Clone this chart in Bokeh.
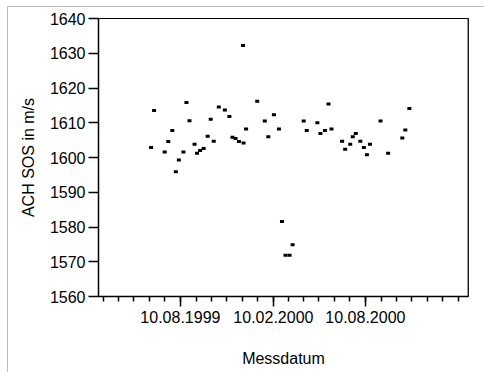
import pandas as pd
from bokeh.plotting import figure
from bokeh.models import ColumnDataSource, FixedTicker, DatetimeTickFormatter, Range1d, Span
from bokeh.embed import file_html
from bokeh.resources import INLINE

# ---- data ----
mess_dates = [
    "1999-06-13", "1999-06-19", "1999-07-10", "1999-07-17", "1999-07-25", "1999-08-01",
    "1999-08-07", "1999-08-16", "1999-08-22", "1999-08-28", "1999-09-07", "1999-09-12",
    "1999-09-18", "1999-09-25", "1999-10-03", "1999-10-09", "1999-10-15", "1999-10-25",
    "1999-11-06", "1999-11-15", "1999-11-21", "1999-11-27", "1999-12-04", "1999-12-13",
    "1999-12-12", "1999-12-18", "2000-01-09", "2000-01-24", "2000-01-31", "2000-02-11",
    "2000-02-21", "2000-02-27", "2000-03-05", "2000-03-13", "2000-03-19", "2000-04-10",
    "2000-04-16", "2000-05-07", "2000-05-13", "2000-05-22", "2000-05-29", "2000-06-04",
    "2000-06-25", "2000-07-01", "2000-07-11", "2000-07-16", "2000-07-22", "2000-07-31",
    "2000-08-07", "2000-08-13", "2000-08-19", "2000-09-09", "2000-09-24", "2000-10-22",
    "2000-10-28", "2000-11-05",
]
sos_values = [
    1602.9, 1613.5, 1601.6, 1604.6, 1607.8, 1595.9,
    1599.3, 1601.6, 1615.8, 1610.6, 1603.8, 1601.2,
    1602.0, 1602.6, 1606.1, 1611.0, 1604.7, 1614.5,
    1613.7, 1611.8, 1605.8, 1605.5, 1604.6, 1604.2,
    1632.2, 1608.2, 1616.2, 1610.5, 1606.0, 1612.3,
    1608.2, 1581.6, 1571.9, 1571.9, 1574.9, 1610.5,
    1607.8, 1610.0, 1606.9, 1607.8, 1615.4, 1608.2,
    1604.7, 1602.4, 1603.8, 1606.0, 1606.9, 1604.7,
    1602.9, 1600.8, 1603.8, 1610.5, 1601.2, 1605.6,
    1607.9, 1614.1,
]
major_tick_dates = ["1999-08-10", "2000-02-10", "2000-08-10"]
minor_tick_dates = [
    "1999-03-10", "1999-04-10", "1999-05-10", "1999-06-10", "1999-07-10", "1999-08-10",
    "1999-09-10", "1999-10-10", "1999-11-10", "1999-12-10", "2000-01-10", "2000-02-10",
    "2000-03-10", "2000-04-10", "2000-05-10", "2000-06-10", "2000-07-10", "2000-08-10",
    "2000-09-10", "2000-10-10", "2000-11-10", "2000-12-10", "2001-01-10", "2001-02-10",
]
x_start, x_end = "1999-03-01", "2001-03-02"
y_ticks = [1560, 1570, 1580, 1590, 1600, 1610, 1620, 1630, 1640]


def ms(d):
    return pd.Timestamp(d).value / 1e6


src = ColumnDataSource(dict(x=[ms(d) for d in mess_dates], y=sos_values))

FONT = "Liberation Sans"

p = figure(
    x_axis_type="datetime",
    frame_width=370, frame_height=278,
    min_border_left=90, min_border_top=11, min_border_right=16, min_border_bottom=76,
    output_backend="svg", toolbar_location=None,
    x_range=Range1d(ms(x_start), ms(x_end)),
    y_range=Range1d(1560, 1640),
    background_fill_color="white", border_fill_color="white",
    styles={"margin-left": "7px", "margin-top": "6px",
            "border-left": "1px solid #bbbbbb", "border-top": "1px solid #bbbbbb"},
)
p.grid.visible = False
p.outline_line_color = "black"
p.outline_line_width = 1

p.rect(x="x", y="y", width=4, height=3, width_units="screen", height_units="screen",
       fill_color="black", line_color=None, source=src)

# right border darker/thicker
p.add_layout(Span(location=ms(x_end), dimension="height", line_color="#333333", line_width=2))

xa = p.xaxis[0]
xa.ticker = FixedTicker(ticks=[ms(d) for d in major_tick_dates],
                        minor_ticks=[ms(d) for d in minor_tick_dates])
xa.formatter = DatetimeTickFormatter(
    days="%d.%m.%Y", months="%d.%m.%Y", years="%d.%m.%Y",
    hours="%d.%m.%Y", minutes="%d.%m.%Y", seconds="%d.%m.%Y",
    milliseconds="%d.%m.%Y", hourmin="%d.%m.%Y", minsec="%d.%m.%Y",
)
xa.axis_label = "Messdatum"

ya = p.yaxis[0]
ya.ticker = FixedTicker(ticks=y_ticks, minor_ticks=[])
ya.axis_label = "ACH SOS in m/s"

for ax in (xa, ya):
    ax.axis_line_color = "black"
    ax.axis_line_width = 1.5
    ax.major_tick_line_color = "black"
    ax.major_tick_line_width = 1.5
    ax.minor_tick_line_color = "black"
    ax.minor_tick_line_width = 1.5
    ax.major_tick_in = 0
    ax.major_tick_out = 10
    ax.minor_tick_in = 0
    ax.minor_tick_out = 5
    ax.major_label_text_font = FONT
    ax.major_label_text_font_size = "16px"
    ax.major_label_text_color = "black"
    ax.axis_label_text_font = FONT
    ax.axis_label_text_font_size = "16px"
    ax.axis_label_text_font_style = "normal"
    ax.axis_label_text_color = "black"

xa.major_label_standoff = 4
xa.axis_label_standoff = 24
ya.major_label_standoff = 3
ya.axis_label_standoff = 10

open("out.html", "w").write(file_html(p, INLINE))
